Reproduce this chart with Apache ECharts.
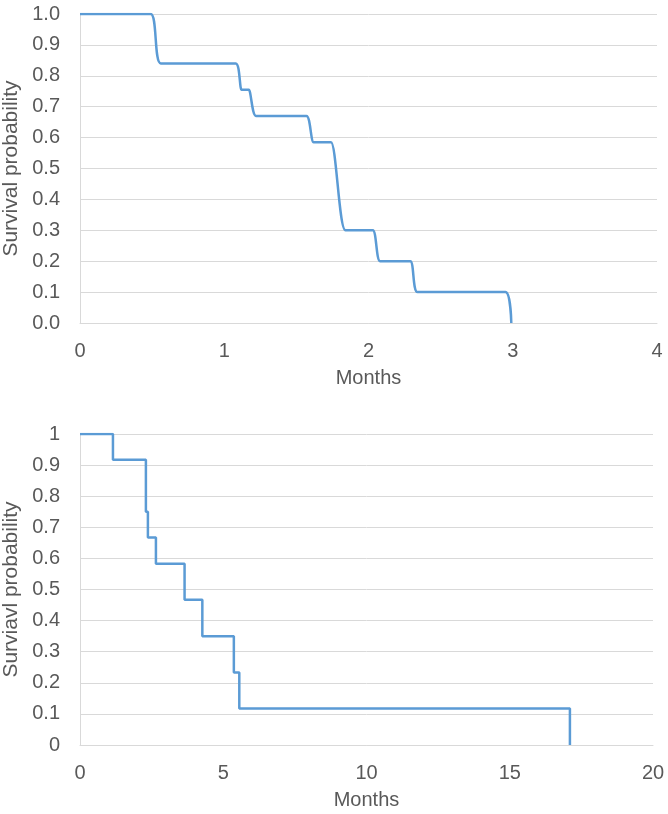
<!DOCTYPE html>
<html><head><meta charset="utf-8">
<script src="https://cdn.jsdelivr.net/npm/echarts@6/dist/echarts.min.js"></script>
<style>html,body{margin:0;padding:0;background:#fff}#c{width:668px;height:814px}</style>
</head><body><div id="c"></div>
<script>
// Top chart (smoothed survival curve)
const topMonths = [0, 0.49, 0.56, 1.08, 1.12, 1.17, 1.22, 1.57, 1.62, 1.74, 1.84, 2.03, 2.08, 2.29, 2.34, 2.95, 2.99];
const topSurvival = [1, 1, 0.84, 0.84, 0.755, 0.755, 0.67, 0.67, 0.585, 0.585, 0.30, 0.30, 0.20, 0.20, 0.10, 0.10, 0];
// Bottom chart (step survival curve)
const bottomMonths = [0, 1.15, 2.3, 2.37, 2.65, 3.65, 4.27, 5.37, 5.56, 17.1];
const bottomSurvival = [1, 0.917, 0.75, 0.667, 0.583, 0.467, 0.35, 0.233, 0.117, 0];

const topYTitle = 'Survival probability';
const bottomYTitle = 'Surviavl probability';
const xTitle = 'Months';

const FONT = 'Liberation Sans';
const txt = '#595959';
const grid = '#d9d9d9';
const blue = '#5b9bd5';

const chart = echarts.init(document.getElementById('c'));
function yAxis(gi, title, fmt, pad) {
  return {
    type: 'value', gridIndex: gi, min: 0, max: 1, interval: 0.1,
    name: title, nameLocation: 'middle', nameGap: 56, nameRotate: 90,
    nameTextStyle: {color: txt, fontSize: 21, fontFamily: FONT, padding: pad},
    axisLine: {show: true, lineStyle: {color: grid, width: 1}},
    axisTick: {show: false},
    splitLine: {lineStyle: {color: grid, width: 1}},
    axisLabel: {color: txt, fontSize: 20, fontFamily: FONT, margin: 20, formatter: fmt}
  };
}
function xAxis(gi, max, interval) {
  return {
    type: 'value', gridIndex: gi, min: 0, max: max, interval: interval,
    name: xTitle, nameLocation: 'middle', nameGap: 45,
    nameTextStyle: {color: txt, fontSize: 20, fontFamily: FONT},
    axisLine: {show: true, onZero: false, lineStyle: {color: grid, width: 1}},
    axisTick: {show: false},
    splitLine: {show: false},
    axisLabel: {color: txt, fontSize: 20, fontFamily: FONT, margin: 18}
  };
}
chart.setOption({
  animation: false,
  grid: [
    {left: 80, right: 11, top: 14, height: 309, outerBoundsMode: 'none', containLabel: false},
    {left: 80, right: 15, top: 434, height: 311, outerBoundsMode: 'none', containLabel: false}
  ],
  xAxis: [xAxis(0, 4, 1), xAxis(1, 20, 5)],
  yAxis: [
    yAxis(0, topYTitle, v => v.toFixed(1), 0),
    yAxis(1, bottomYTitle, v => String(Math.round(v * 10) / 10), [0, 0, 0, 0])
  ],
  series: [
    {type: 'line', xAxisIndex: 0, yAxisIndex: 0, smooth: 0.2, symbol: 'none',
     lineStyle: {color: blue, width: 2.5},
     data: topMonths.map((m, i) => [m, topSurvival[i]])},
    {type: 'line', xAxisIndex: 1, yAxisIndex: 1, step: 'end', symbol: 'none',
     lineStyle: {color: blue, width: 2.5},
     data: bottomMonths.map((m, i) => [m, bottomSurvival[i]])}
  ]
});
</script></body></html>
